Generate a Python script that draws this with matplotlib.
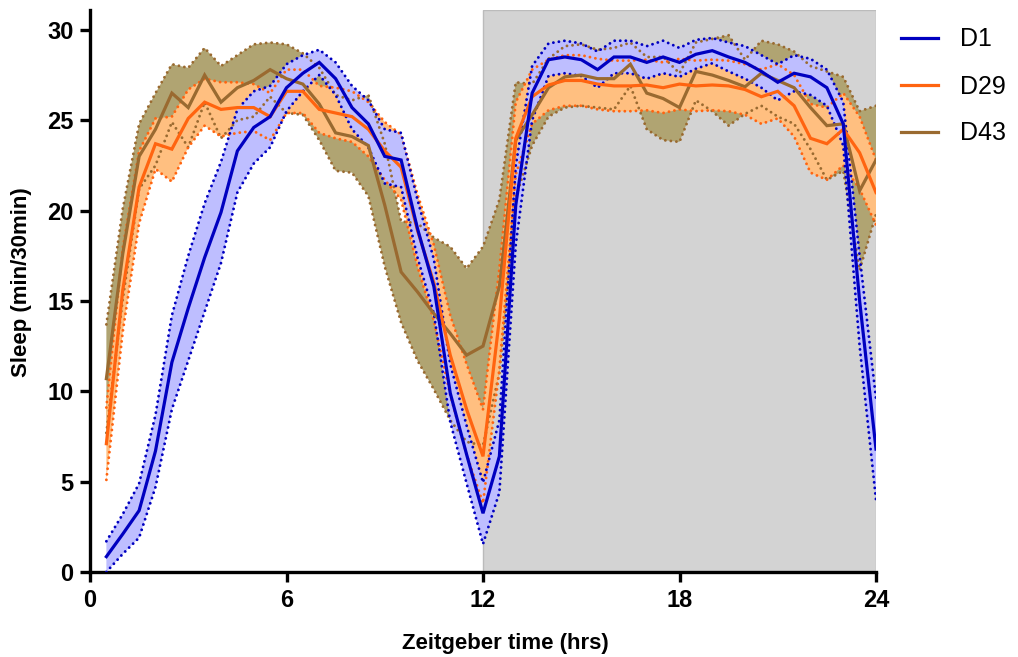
import numpy as np
import matplotlib
matplotlib.use("Agg")
import matplotlib.pyplot as plt

plt.rcParams['font.family'] = ['Liberation Sans', 'DejaVu Sans']

zt = [0.5 * i for i in range(1, 49)]

d1_mean = [0.85, 2.1, 3.4, 6.7, 11.6, 14.6, 17.4, 19.9, 23.3, 24.6, 25.2, 26.8,
           27.6, 28.2, 27.3, 25.7, 24.8, 23.0, 22.8, 19.0, 15.8, 9.9, 6.5, 3.25,
           6.4, 20.3, 26.5, 28.35, 28.5, 28.35, 27.8, 28.5, 28.5, 28.2, 28.5, 28.2,
           28.65, 28.85, 28.5, 28.2, 27.7, 27.1, 27.6, 27.4, 26.8, 24.8, 15.0, 6.8]
d1_sem = [0.85, 1.1, 1.5, 2.0, 2.6, 2.9, 3.0, 2.8, 2.3, 2.0, 1.7, 1.3,
          1.0, 0.7, 0.9, 1.2, 1.3, 1.5, 1.5, 1.6, 1.5, 1.6, 1.6, 1.7,
          2.0, 2.2, 1.5, 0.9, 0.9, 0.9, 1.0, 0.9, 0.9, 0.9, 0.9, 0.8,
          0.8, 0.7, 0.8, 0.9, 0.9, 1.0, 1.0, 1.0, 1.0, 1.2, 2.5, 2.8]

d29_mean = [7.1, 15.6, 21.3, 23.7, 23.4, 25.1, 26.0, 25.6, 25.7, 25.7, 25.2, 26.6,
            26.6, 25.6, 25.4, 25.2, 24.5, 23.3, 22.4, 18.9, 16.0, 12.0, 9.0, 6.4,
            14.0, 24.0, 26.3, 26.95, 27.2, 27.2, 27.0, 26.9, 26.9, 26.95, 26.8, 27.0,
            26.9, 26.95, 26.9, 26.7, 26.3, 26.6, 25.8, 24.0, 23.7, 24.5, 23.2, 21.0]
d29_sem = [2.0, 2.3, 2.0, 1.4, 1.8, 1.6, 1.3, 1.5, 1.4, 1.3, 1.3, 1.2,
           1.2, 1.3, 1.4, 1.4, 1.5, 1.6, 1.8, 2.0, 2.1, 2.2, 2.5, 2.6,
           2.8, 2.0, 1.5, 1.4, 1.4, 1.4, 1.4, 1.4, 1.4, 1.4, 1.4, 1.4,
           1.4, 1.4, 1.4, 1.4, 1.5, 1.5, 1.7, 1.9, 2.0, 2.0, 2.0, 1.8]

d43_mean = [10.7, 17.6, 23.0, 24.5, 26.5, 25.7, 27.5, 26.0, 26.8, 27.2, 27.8, 27.3,
            27.0, 25.9, 24.3, 24.1, 23.6, 20.3, 16.6, 15.5, 14.3, 13.2, 12.0, 12.5,
            15.8, 23.9, 25.3, 26.8, 27.4, 27.5, 27.3, 27.3, 28.1, 26.5, 26.2, 25.7,
            27.7, 27.5, 27.2, 26.85, 27.6, 27.2, 26.8, 25.7, 24.7, 24.8, 21.1, 22.8]
d43_sem = [3.0, 2.5, 1.8, 2.0, 1.6, 2.2, 1.5, 2.0, 1.8, 2.0, 1.5, 1.9,
           1.7, 2.0, 2.1, 2.0, 2.8, 3.4, 2.8, 3.8, 4.2, 4.8, 4.8, 5.5,
           4.8, 3.2, 1.7, 1.6, 1.7, 1.7, 1.6, 1.7, 1.2, 2.0, 2.3, 1.9,
           1.6, 2.0, 2.5, 1.5, 1.8, 2.0, 2.0, 2.3, 3.0, 2.6, 4.4, 3.0]

labels = ["D1", "D29", "D43"]
x_ticks = [0, 6, 12, 18, 24]
y_ticks = [0, 5, 10, 15, 20, 25, 30]

series = [
    (labels[2], d43_mean, d43_sem, '#9A6A30', '#B0A472'),
    (labels[1], d29_mean, d29_sem, '#FF6410', '#FFBF80'),
    (labels[0], d1_mean, d1_sem, '#0000C0', '#BEBEFF'),
]

fig = plt.figure(figsize=(10.18, 6.57), dpi=100)
ax = fig.add_axes([90 / 1018, 1 - 572 / 657, (876 - 90) / 1018, (572 - 10) / 657])

ax.axvspan(12, 24, facecolor='#D3D3D3', edgecolor='#BBBBBB', lw=1, zorder=0)

x = np.array(zt)
for i, (lab, m, s, c, fc) in enumerate(series):
    m = np.array(m); s = np.array(s)
    ax.fill_between(x, m - s, m + s, facecolor=fc, edgecolor='none', zorder=1 + i)

for i, (lab, m, s, c, fc) in enumerate(series):
    m = np.array(m); s = np.array(s)
    for b in (m - s, m + s):
        ax.plot(x, b, color=c, lw=2.1, ls=(0, (0.01, 1.9)), dash_capstyle='round', zorder=5)

handles = {}
for i, (lab, m, s, c, fc) in enumerate(series):
    h, = ax.plot(x, m, color=c, lw=2.3, zorder=6 + i, solid_joinstyle='miter')
    handles[lab] = h

ax.set_xlim(0, 24)
ax.set_ylim(0, 31.1)
ax.set_xticks(x_ticks)
ax.set_yticks(y_ticks)
for sp in ['top', 'right']:
    ax.spines[sp].set_visible(False)
for sp in ['left', 'bottom']:
    ax.spines[sp].set_linewidth(2.4)
ax.tick_params(direction='out', length=7, width=2.4, labelsize=17, pad=5)
for t in ax.get_xticklabels() + ax.get_yticklabels():
    t.set_fontweight('bold')
ax.set_xlabel('Zeitgeber time (hrs)', fontsize=16, fontweight='bold')
ax.set_ylabel('Sleep (min/30min)', fontsize=16, fontweight='bold')
ax.xaxis.set_label_coords((505 - 90) / 786, -(643 - 572) / 562)
ax.yaxis.set_label_coords(-(90 - 22) / 786, (572 - 282) / 562)
ax.xaxis.label.set_va('center')
ax.yaxis.label.set_va('center')

leg = fig.legend([handles[l] for l in labels], labels, loc='upper left',
                 bbox_to_anchor=(878 / 1018, 1 - 5 / 657), frameon=False,
                 fontsize=18, handlelength=1.5, handletextpad=0.9, labelspacing=0.92)

fig.savefig('out.png', dpi=100)
